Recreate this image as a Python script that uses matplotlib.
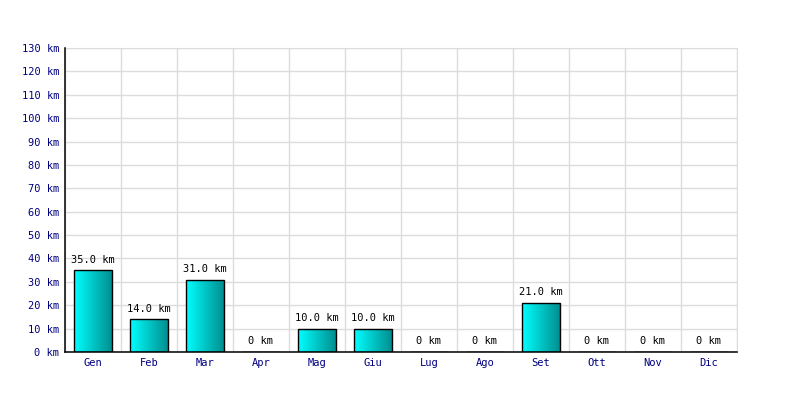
import matplotlib
matplotlib.use("Agg")
import matplotlib.pyplot as plt
import numpy as np
from matplotlib.colors import LinearSegmentedColormap

months = ["Gen", "Feb", "Mar", "Apr", "Mag", "Giu", "Lug", "Ago", "Set", "Ott", "Nov", "Dic"]
km = [35.0, 14.0, 31.0, 0, 10.0, 10.0, 0, 0, 21.0, 0, 0, 0]
yticks = list(range(0, 140, 10))

plt.rcParams['font.family'] = 'DejaVu Sans Mono'

fig = plt.figure(figsize=(8, 4), dpi=100)
ax = fig.add_axes([0.08125, 0.12, 0.84, 0.76])

x = np.arange(len(months))
bars = ax.bar(x, km, width=0.68, color='none', edgecolor='black', linewidth=1, zorder=3)

# horizontal gradient cyan -> teal inside each bar
cmap = LinearSegmentedColormap.from_list('cy', ['#00ffff', '#008b8b'])
grad = np.linspace(0, 1, 256).reshape(1, -1)
for b in bars:
    h = b.get_height()
    if h <= 0:
        continue
    x0 = b.get_x()
    w = b.get_width()
    im = ax.imshow(grad, cmap=cmap, aspect='auto', extent=[x0, x0 + w, 0, h], zorder=2)
    im.set_clip_path(b)

for xi, v in zip(x, km):
    lab = "0 km" if v == 0 else f"{v:.1f} km"
    ax.annotate(lab, (xi, v), xytext=(0, 4), textcoords='offset points',
                ha='center', va='bottom', fontsize=7.5, color='black')

ax.set_xlim(-0.5, len(months) - 0.5)
ax.set_ylim(0, 130)
ax.set_xticks(x)
ax.set_xticklabels(months)
ax.set_yticks(yticks)
ax.set_yticklabels([f"{t} km" for t in yticks])
ax.set_xticks(np.arange(-0.5, len(months)), minor=True)
ax.tick_params(axis='both', which='both', length=0, labelsize=7.5, labelcolor='#000080')
ax.tick_params(axis='x', pad=4)
ax.tick_params(axis='y', pad=4)

ax.grid(axis='y', color='#dcdcdc', linewidth=1, zorder=0)
ax.grid(axis='x', which='minor', color='#dcdcdc', linewidth=1, zorder=0)
ax.set_axisbelow(True)

ax.spines['right'].set_color('#dcdcdc')
ax.spines['top'].set_color('#dcdcdc')
ax.spines['right'].set_zorder(0)
ax.spines['top'].set_zorder(0)
ax.spines['left'].set_linewidth(1.1)
ax.spines['bottom'].set_linewidth(1.1)

fig.savefig("out.png", dpi=100)
